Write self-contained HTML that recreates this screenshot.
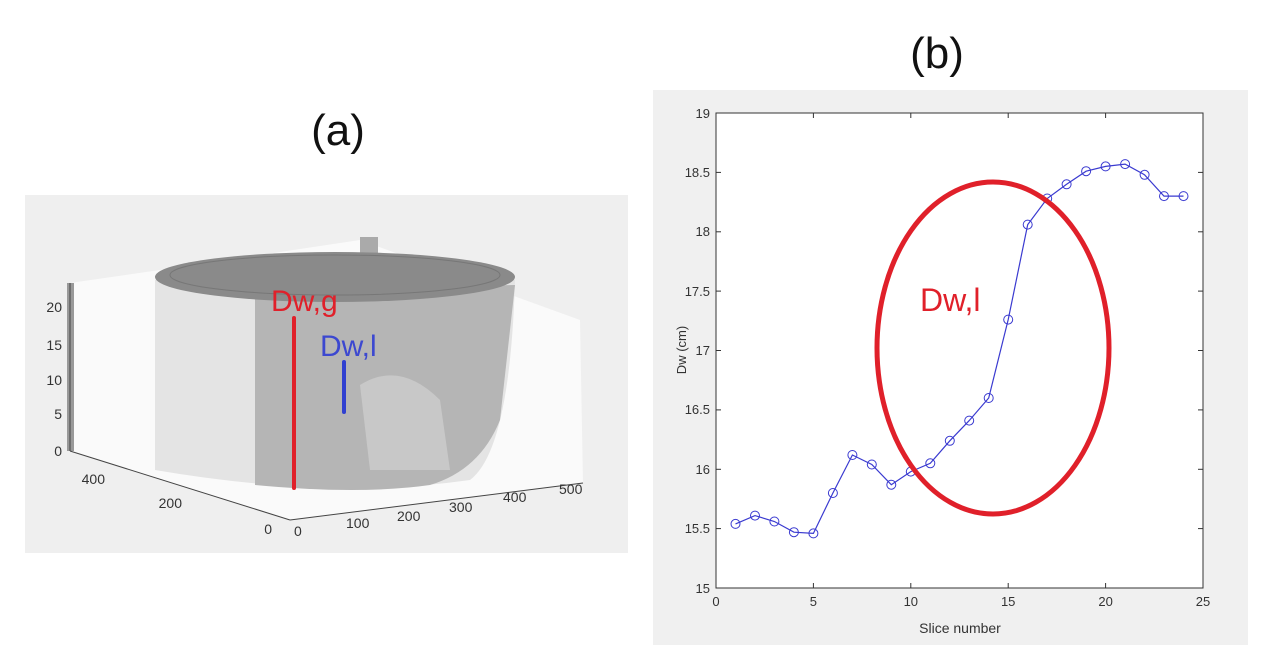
<!DOCTYPE html>
<html><head><style>
body{margin:0;background:#fff;width:1261px;height:665px;overflow:hidden;font-family:"Liberation Sans",sans-serif}
</style></head><body>
<svg width="1261" height="665" viewBox="0 0 1261 665" font-family="Liberation Sans, sans-serif">
<!-- panel a -->
<rect x="25" y="195" width="603" height="358" fill="#efefef"/>
<text x="338" y="145" font-size="44" text-anchor="middle" fill="#111">(a)</text>
<polygon points="70,283 160,270 360,240 580,320 583,483 290,520 70,451" fill="#fafafa"/>
<rect x="67" y="283" width="7" height="168" fill="#999"/>
<rect x="360" y="237" width="18" height="20" fill="#aaa"/>
<!-- cylinder body -->
<path d="M155,280 L155,470 Q330,500 470,480 Q510,450 515,280 Z" fill="#e4e4e4"/>
<path d="M255,290 L255,485 Q360,495 430,485 Q480,470 500,420 L515,285 Z" fill="#b5b5b5"/>
<path d="M360,385 Q400,360 440,400 L450,470 L370,470 Z" fill="#c8c8c8"/>
<ellipse cx="335" cy="277" rx="180" ry="25" fill="#8a8a8a"/>
<ellipse cx="335" cy="275" rx="165" ry="20" fill="none" stroke="#777" stroke-width="1"/>
<!-- axes -->
<g stroke="#444" stroke-width="1" fill="none">
<line x1="70" y1="451" x2="290" y2="520"/>
<line x1="290" y1="520" x2="583" y2="483"/>
<line x1="70" y1="283" x2="70" y2="451"/>
</g>
<g font-size="14" fill="#333" text-anchor="end">
<text x="62" y="312">20</text><text x="62" y="350">15</text><text x="62" y="385">10</text><text x="62" y="419">5</text><text x="62" y="456">0</text>
<text x="105" y="484">400</text><text x="182" y="508">200</text><text x="272" y="534">0</text>
</g>
<g font-size="14" fill="#333">
<text x="294" y="536">0</text><text x="346" y="528">100</text><text x="397" y="521">200</text><text x="449" y="512">300</text><text x="503" y="502">400</text><text x="559" y="494">500</text>
</g>
<line x1="294" y1="318" x2="294" y2="488" stroke="#e0202a" stroke-width="4" stroke-linecap="round"/>
<line x1="344" y1="362" x2="344" y2="412" stroke="#3040d0" stroke-width="4" stroke-linecap="round"/>
<text x="271" y="311" font-size="30" fill="#e0202a">Dw,g</text>
<text x="320" y="356" font-size="30" fill="#3c48d0">Dw,l</text>
<!-- panel b -->
<text x="937" y="68" font-size="44" text-anchor="middle" fill="#111">(b)</text>
<rect x="653" y="90" width="595" height="555" fill="#f0f0f0"/>
<rect x="716" y="113" width="487" height="475" fill="#fff" stroke="#333" stroke-width="1"/>
<g stroke="#333" stroke-width="1">
<line x1="716" y1="172.4" x2="721" y2="172.4"/><line x1="716" y1="231.8" x2="721" y2="231.8"/><line x1="716" y1="291.1" x2="721" y2="291.1"/><line x1="716" y1="350.5" x2="721" y2="350.5"/><line x1="716" y1="409.9" x2="721" y2="409.9"/><line x1="716" y1="469.3" x2="721" y2="469.3"/><line x1="716" y1="528.6" x2="721" y2="528.6"/>
<line x1="1198" y1="172.4" x2="1203" y2="172.4"/><line x1="1198" y1="231.8" x2="1203" y2="231.8"/><line x1="1198" y1="291.1" x2="1203" y2="291.1"/><line x1="1198" y1="350.5" x2="1203" y2="350.5"/><line x1="1198" y1="409.9" x2="1203" y2="409.9"/><line x1="1198" y1="469.3" x2="1203" y2="469.3"/><line x1="1198" y1="528.6" x2="1203" y2="528.6"/>
<line x1="813.4" y1="588" x2="813.4" y2="583"/><line x1="910.8" y1="588" x2="910.8" y2="583"/><line x1="1008.2" y1="588" x2="1008.2" y2="583"/><line x1="1105.6" y1="588" x2="1105.6" y2="583"/>
<line x1="813.4" y1="113" x2="813.4" y2="118"/><line x1="910.8" y1="113" x2="910.8" y2="118"/><line x1="1008.2" y1="113" x2="1008.2" y2="118"/><line x1="1105.6" y1="113" x2="1105.6" y2="118"/>
</g>
<g font-size="13" fill="#333" text-anchor="end">
<text x="710" y="118">19</text><text x="710" y="177">18.5</text><text x="710" y="236">18</text><text x="710" y="296">17.5</text><text x="710" y="355">17</text><text x="710" y="414">16.5</text><text x="710" y="474">16</text><text x="710" y="533">15.5</text><text x="710" y="593">15</text>
</g>
<g font-size="13" fill="#333" text-anchor="middle">
<text x="716" y="606">0</text><text x="813.4" y="606">5</text><text x="910.8" y="606">10</text><text x="1008.2" y="606">15</text><text x="1105.6" y="606">20</text><text x="1203" y="606">25</text>
<text x="960" y="633" font-size="14">Slice number</text>
</g>
<text transform="translate(686,350) rotate(-90)" font-size="13" fill="#333" text-anchor="middle">Dw (cm)</text>
<polyline id="pl" fill="none" stroke="#3a3ad0" stroke-width="1.2" points="735.5,523.9 755,515.6 774.4,521.5 793.9,532.2 813.4,533.4 832.9,493.0 852.4,455.0 871.8,464.5 891.3,484.7 910.8,471.6 930.3,463.3 949.8,440.8 969.2,420.6 988.7,398.0 1008.2,319.6 1027.7,224.6 1047.2,198.5 1066.6,184.3 1086.1,171.2 1105.6,166.4 1125.1,164.1 1144.6,174.8 1164,196.1 1183.5,196.1"/>
<g fill="none" stroke="#3a3ad0" stroke-width="1">
<circle cx="735.5" cy="523.9" r="4.5"/><circle cx="755" cy="515.6" r="4.5"/><circle cx="774.4" cy="521.5" r="4.5"/><circle cx="793.9" cy="532.2" r="4.5"/><circle cx="813.4" cy="533.4" r="4.5"/><circle cx="832.9" cy="493" r="4.5"/><circle cx="852.4" cy="455" r="4.5"/><circle cx="871.8" cy="464.5" r="4.5"/><circle cx="891.3" cy="484.7" r="4.5"/><circle cx="910.8" cy="471.6" r="4.5"/><circle cx="930.3" cy="463.3" r="4.5"/><circle cx="949.8" cy="440.8" r="4.5"/><circle cx="969.2" cy="420.6" r="4.5"/><circle cx="988.7" cy="398" r="4.5"/><circle cx="1008.2" cy="319.6" r="4.5"/><circle cx="1027.7" cy="224.6" r="4.5"/><circle cx="1047.2" cy="198.5" r="4.5"/><circle cx="1066.6" cy="184.3" r="4.5"/><circle cx="1086.1" cy="171.2" r="4.5"/><circle cx="1105.6" cy="166.4" r="4.5"/><circle cx="1125.1" cy="164.1" r="4.5"/><circle cx="1144.6" cy="174.8" r="4.5"/><circle cx="1164" cy="196.1" r="4.5"/><circle cx="1183.5" cy="196.1" r="4.5"/>
</g>
<ellipse cx="993" cy="348" rx="116" ry="166" fill="none" stroke="#e0202a" stroke-width="5"/>
<text x="920" y="311" font-size="32" fill="#e0202a">Dw,l</text>
</svg>
</body></html>
